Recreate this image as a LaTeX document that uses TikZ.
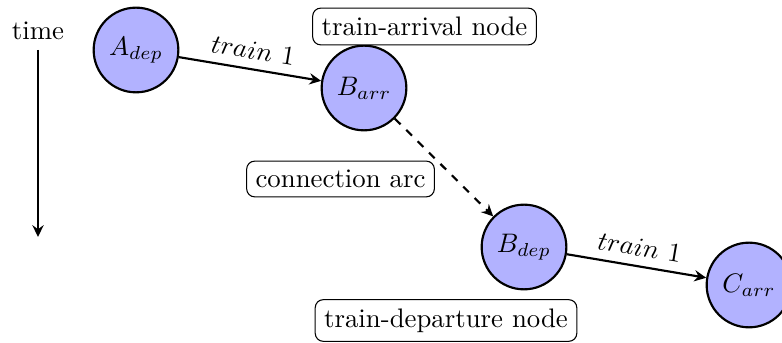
\documentclass[tikz,border=0pt]{standalone}
\usetikzlibrary{arrows.meta}
\begin{document}
\begin{tikzpicture}[x=0.37313pt,y=-0.37313pt,
  event/.style={circle,draw,thick,fill=blue!30,minimum size=31.6pt,inner sep=0pt},
  tag/.style={draw,thin,rounded corners=3pt,fill=white},
  flow/.style={thick,-{Stealth[length=4.4pt,width=4.2pt,inset=1.5pt]}},
  trainlbl/.style={above,sloped,midway}]
\useasboundingbox (0,0) rectangle (782,343);

% time axis
\node (time) at (38,31) {time};
\coordinate (tstart) at (38,50);
\coordinate (tend) at (38,237);
\draw[flow] (tstart) -- (tend);

% event nodes
\node[event] (Adep) at (136,50) {$A_{dep}$};
\node[event] (Barr) at (364,88) {$B_{arr}$};
\node[event] (Bdep) at (524,247) {$B_{dep}$};
\node[event] (Carr) at (749,285) {$C_{arr}$};

% arcs
\draw[flow] (Adep) -- node[trainlbl] {$train~1$} (Barr);
\draw[flow,dashed] (Barr) -- (Bdep);
\draw[flow] (Bdep) -- node[trainlbl] {$train~1$} (Carr);

% annotations
\node[tag] (arrtag) at (424.5,26.5) {train-arrival node};
\node[tag] (contag) at (340.5,179) {connection arc};
\node[tag] (deptag) at (446,320.5) {train-departure node};
\end{tikzpicture}
\end{document}
